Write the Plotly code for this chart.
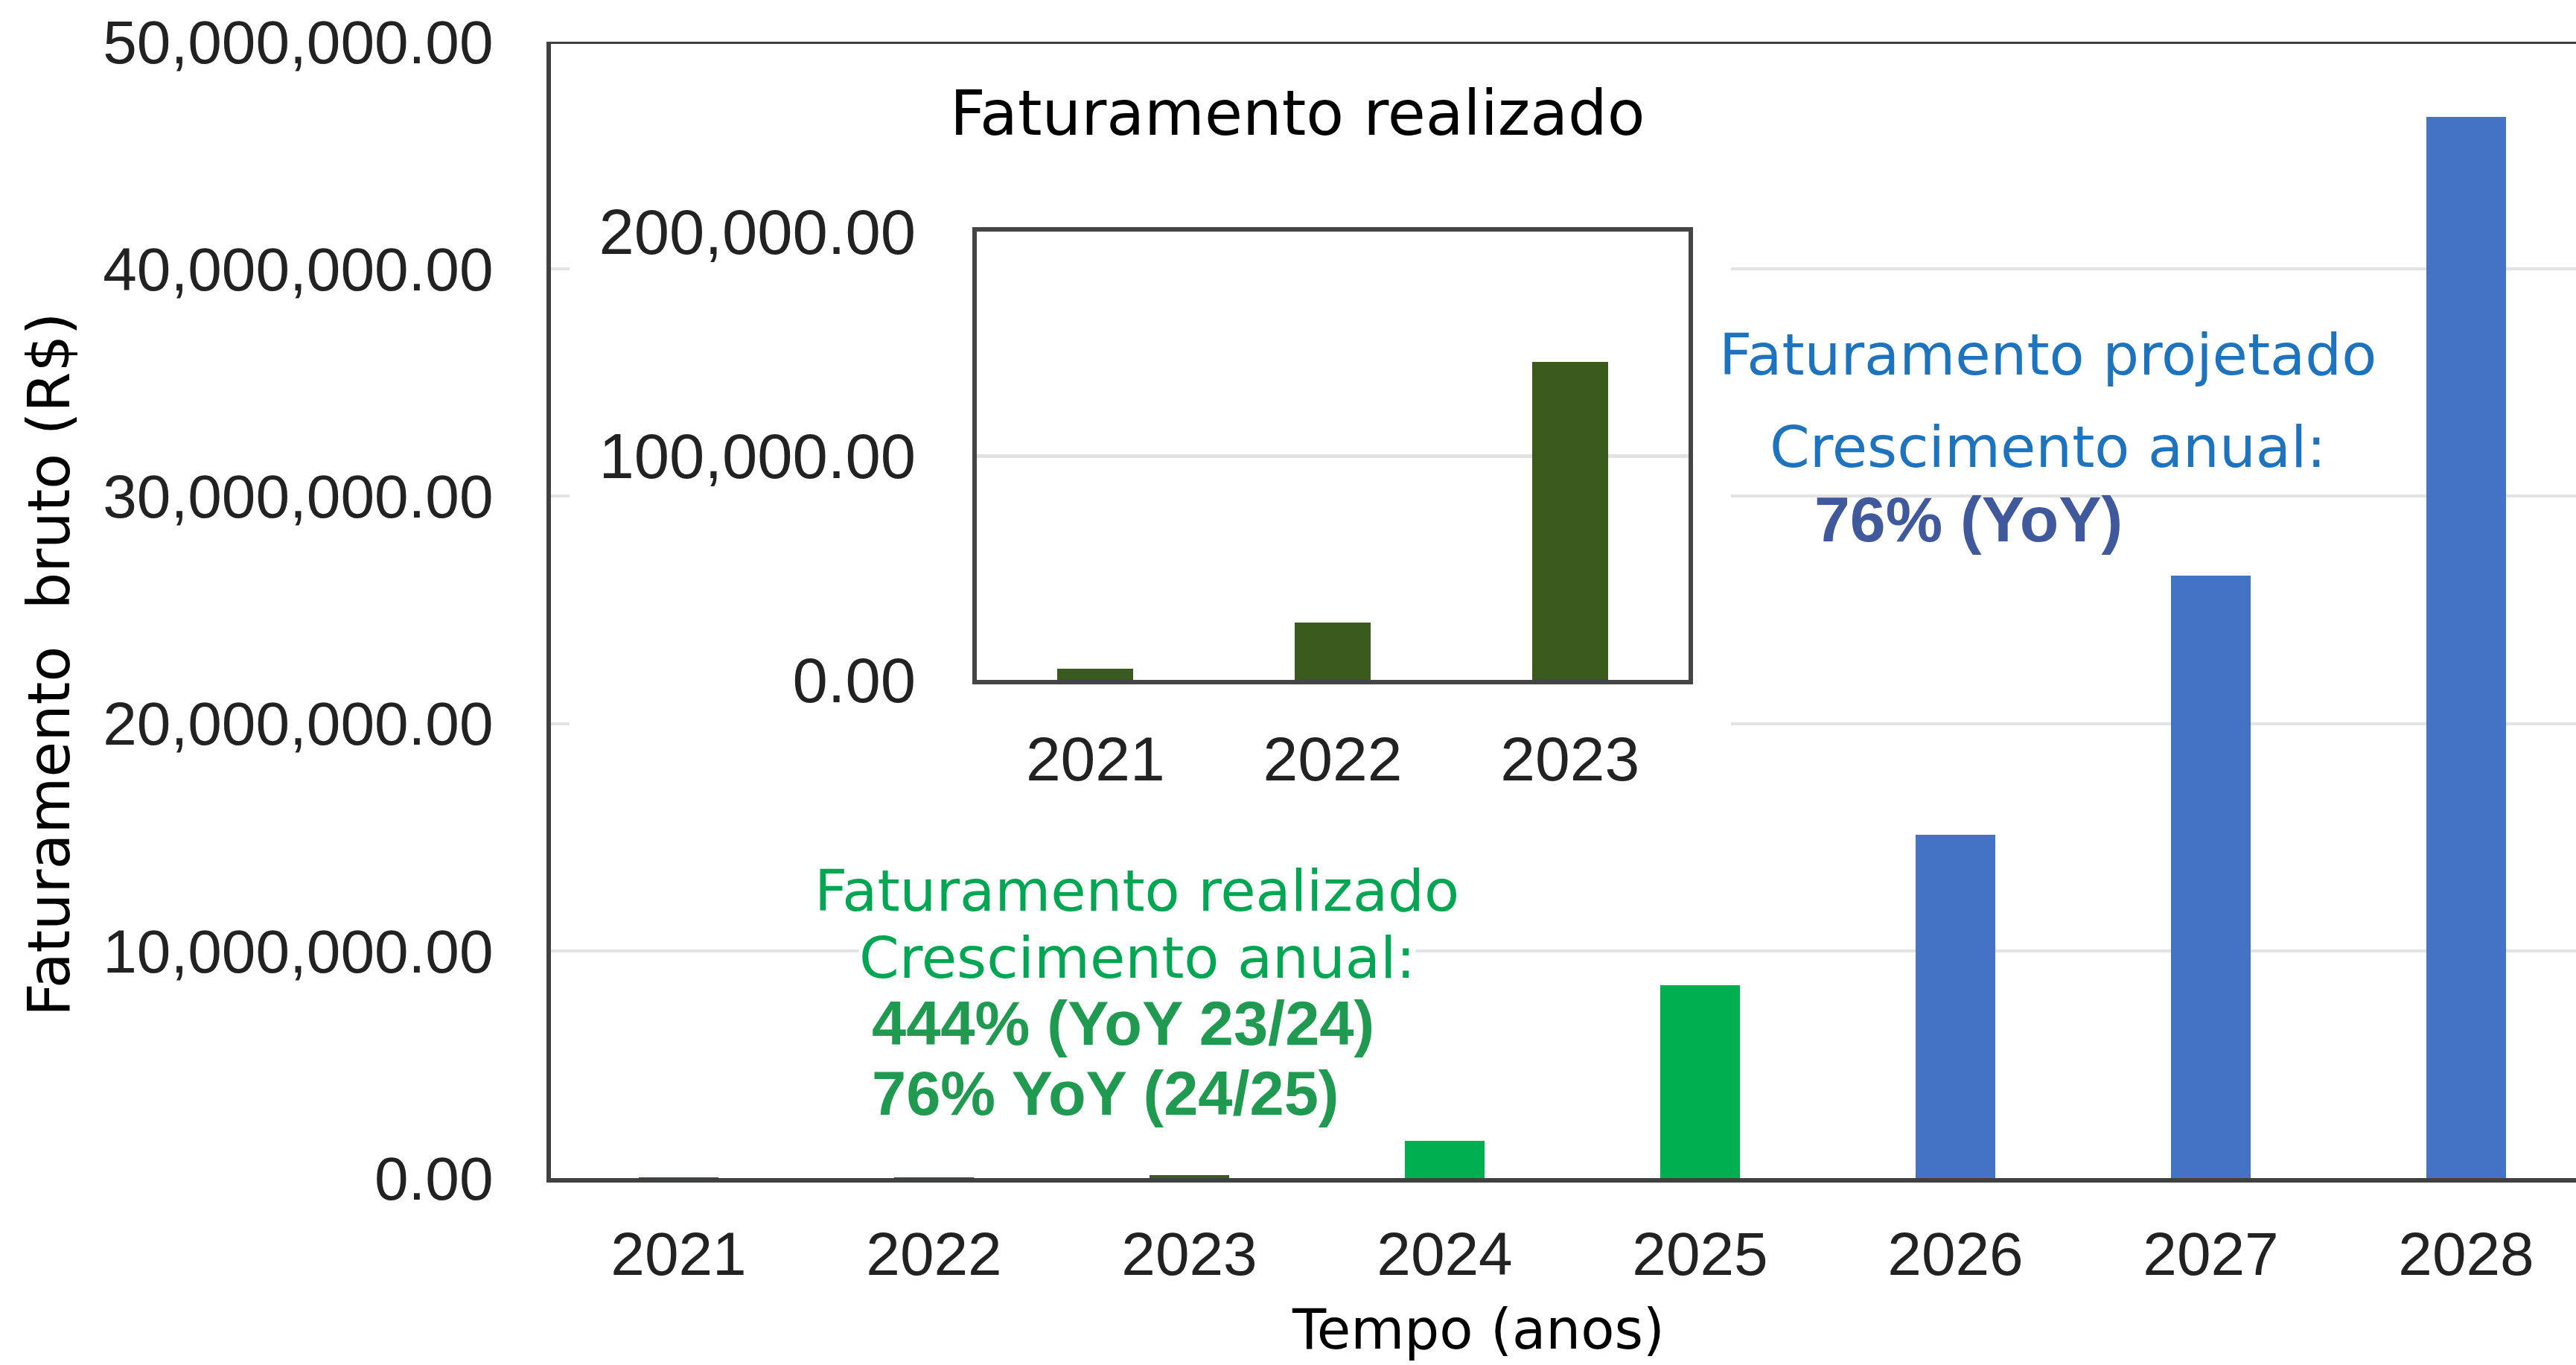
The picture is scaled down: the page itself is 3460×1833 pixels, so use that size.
import plotly.graph_objects as go

W, H = 3460, 1833

# ---- data ----
anos = ["2021", "2022", "2023", "2024", "2025", "2026", "2027", "2028"]
faturamento = [5000, 25500, 142000, 1650000, 8500000, 15100000, 26500000, 46700000]
tipo = ["inicial", "inicial", "inicial", "realizado", "realizado", "projetado", "projetado", "projetado"]

anos_inset = ["2021", "2022", "2023"]
faturamento_inset = [5000, 25500, 142000]

y_ticks_main = [0, 10000000, 20000000, 30000000, 40000000, 50000000]
y_ticks_inset = [0, 100000, 200000]

# ---- styles ----
cores_tipo = {"inicial": "#3a5a1e", "realizado": "#00b050", "projetado": "#4472c4"}
cores = [cores_tipo[t] for t in tipo]
AXIS = "#404040"
GRID = "#e3e3e3"
TICKFONT = dict(family="Liberation Sans, Arial", size=82, color="#222222")
TITLEFONT = "DejaVu Sans"

# plot-area geometry in pixels
PL, PR, PT, PB = 740, 3460, 56, 1582
XMAX = 7.43
CAT_PX = (PR - PL) / (XMAX + 0.5)


def px(x):
    return x / W


def py(y):
    return 1 - y / H


fig = go.Figure()
fig.add_trace(go.Bar(x=anos, y=faturamento, marker=dict(color=cores, line=dict(width=0)),
                     width=0.31, xaxis="x", yaxis="y", showlegend=False, hoverinfo="skip"))
fig.add_trace(go.Bar(x=anos_inset, y=faturamento_inset, marker=dict(color="#3a5a1e", line=dict(width=0)),
                     width=0.32, xaxis="x2", yaxis="y2", showlegend=False, hoverinfo="skip"))

fig.update_layout(
    width=W, height=H,
    margin=dict(l=0, r=0, t=0, b=0, autoexpand=False),
    paper_bgcolor="white", plot_bgcolor="white",
    bargap=0,
    xaxis=dict(domain=[px(PL), 1], type="category", range=[-0.5, XMAX], automargin=False,
               showline=True, linecolor=AXIS, linewidth=6, showgrid=False,
               ticks="", tickfont=TICKFONT, ticklabelstandoff=26, anchor="y"),
    yaxis=dict(domain=[py(PB), py(PT)], range=[0, 50000000], tickvals=y_ticks_main, automargin=False,
               tickformat=",.2f", showline=True, linecolor=AXIS, linewidth=6,
               showgrid=True, gridcolor=GRID, gridwidth=4, zeroline=False,
               ticks="", tickfont=TICKFONT, ticklabelstandoff=55, anchor="x"),
    xaxis2=dict(domain=[px(1312), px(2268)], type="category", range=[-0.5, 2.5], automargin=False,
                showline=True, mirror=True, linecolor="#454545", linewidth=6, showgrid=False,
                ticks="", tickfont=dict(family="Liberation Sans, Arial", size=84, color="#222222"),
                ticklabelstandoff=28, anchor="y2"),
    yaxis2=dict(domain=[py(913), py(311)], range=[0, 200000], tickvals=y_ticks_inset, automargin=False,
                tickformat=",.2f", showline=True, mirror=True, linecolor="#454545", linewidth=6,
                showgrid=True, gridcolor=GRID, gridwidth=5, zeroline=False,
                ticks="", tickfont=dict(family="Liberation Sans, Arial", size=85, color="#222222"),
                ticklabelstandoff=59, anchor="x2"),
)

# white background of the pasted inset (hides main gridlines behind it)
fig.add_shape(type="rect", xref="x", yref="y",
              x0=-0.5 + (765 - PL) / CAT_PX, x1=-0.5 + (2325 - PL) / CAT_PX,
              y0=(PB - 1100) / (PB - PT) * 50000000, y1=(PB - 200) / (PB - PT) * 50000000,
              fillcolor="white", line=dict(width=0), layer="between")
# top border line of main plot
fig.add_shape(type="line", xref="x domain", yref="y", x0=0, x1=1,
              y0=y_ticks_main[-1], y1=y_ticks_main[-1], line=dict(color=AXIS, width=6))


def ann(text, x, y, size, color, family=TITLEFONT, weight=400, angle=0, bg=None, xanchor="center"):
    fig.add_annotation(text=text, x=px(x), y=py(y), xref="paper", yref="paper",
                       showarrow=False, xanchor=xanchor, yanchor="middle", textangle=angle,
                       font=dict(family=family, size=size, color=color, weight=weight),
                       bgcolor=bg, borderpad=0)


# axis titles
ann("Faturamento\u00a0 bruto (R$)", 66, 893, 78, "#000000", angle=-90)
ann("Tempo (anos)", 1986, 1785, 74, "#000000")

# inset title
ann("Faturamento realizado", 1743, 152, 83, "#000000")

# green annotations
GREEN = "#00a651"
ann("Faturamento realizado", 1527, 1196, 77, GREEN)
ann("Crescimento anual:", 1527, 1286, 77, GREEN, bg="white")
ann("444% (YoY 23/24)", 1170, 1374, 83, "#1f9a50", family="Liberation Sans, Arial", weight=700,
    xanchor="left")
ann("76% YoY (24/25)", 1170, 1468, 83, "#1f9a50", family="Liberation Sans, Arial", weight=700,
    xanchor="left")

# blue annotations
BLUE = "#1e73be"
ann("Faturamento projetado", 2750, 477, 77, BLUE)
ann("Crescimento anual:", 2750, 600, 77, BLUE)
ann("76% (YoY)", 2644, 697, 86, "#40599c", family="Liberation Sans, Arial", weight=700)

fig.write_html("out.html", post_script="document.body.style.margin='0';",
               config={"displayModeBar": False})
